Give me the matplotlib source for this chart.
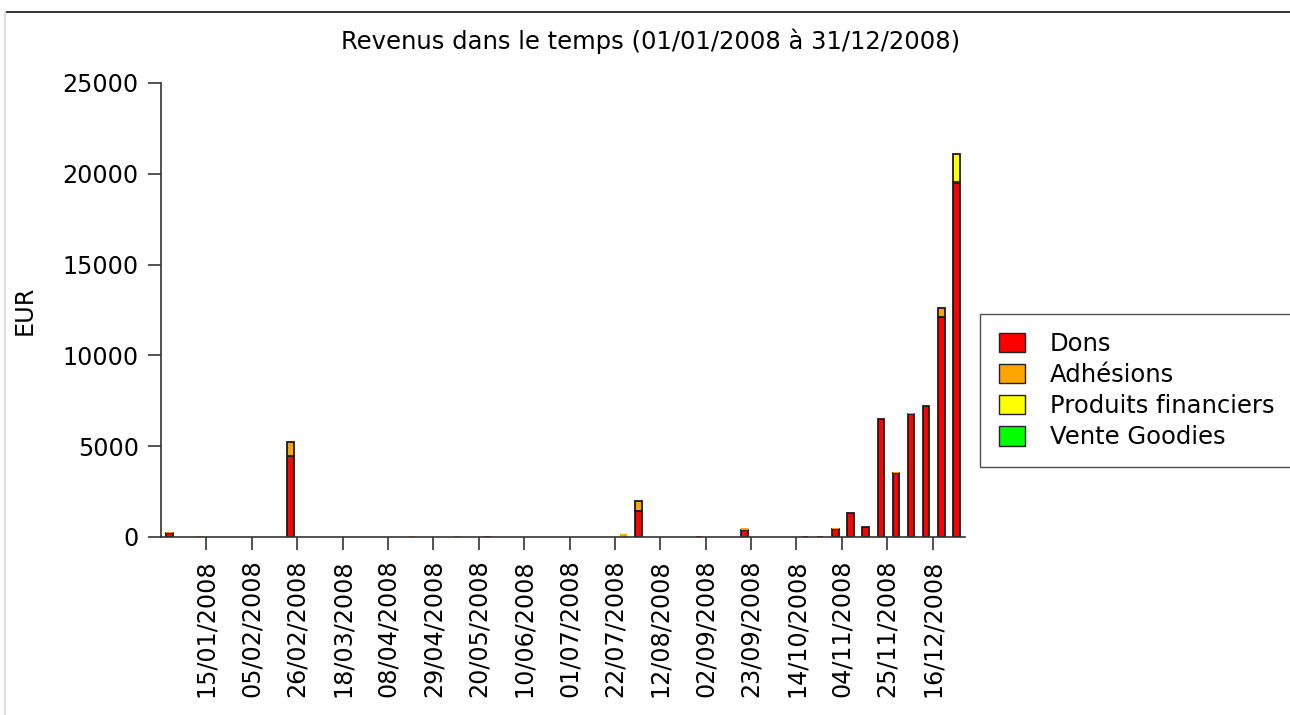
import numpy as np
import pandas as pd
import matplotlib
matplotlib.use('Agg')
import matplotlib.pyplot as plt
import matplotlib.dates as mdates
import matplotlib.transforms as mtransforms
from matplotlib.lines import Line2D

# Weekly revenue, 53 weeks starting 29/12/2007
week_start = '2007-12-29'
n_weeks = 53

dons = [220, 0, 0, 0, 0, 0, 0, 0, 4450, 0,
        0, 0, 0, 0, 0, 0, 0, 0, 0, 0,
        0, 30, 0, 0, 0, 0, 0, 0, 0, 0,
        0, 1430, 0, 0, 0, 30, 0, 0, 380, 0,
        0, 0, 30, 30, 420, 1300, 570, 6480, 3500, 6770,
        7200, 12100, 19480]
adhesions = [40, 0, 30, 0, 0, 0, 0, 0, 800, 0,
             0, 0, 0, 0, 0, 0, 30, 0, 0, 30,
             0, 0, 0, 0, 0, 0, 0, 0, 0, 0,
             150, 570, 0, 0, 0, 0, 0, 0, 100, 0,
             0, 0, 0, 0, 90, 0, 0, 0, 60, 80,
             0, 490, 60]
produits = [0] * 52 + [1540]
goodies = [0] * 53

series = [('Dons', dons, '#ff0000'),
          ('Adhésions', adhesions, '#ffa500'),
          ('Produits financiers', produits, '#ffff00'),
          ('Vente Goodies', goodies, '#00ff00')]

tick_labels = ['15/01/2008', '05/02/2008', '26/02/2008', '18/03/2008', '08/04/2008',
               '29/04/2008', '20/05/2008', '10/06/2008', '01/07/2008', '22/07/2008',
               '12/08/2008', '02/09/2008', '23/09/2008', '14/10/2008', '04/11/2008',
               '25/11/2008', '16/12/2008']

weeks = pd.date_range(week_start, periods=n_weeks, freq='7D')
x = mdates.date2num(weeks.to_pydatetime())
ticks = mdates.date2num(pd.to_datetime(tick_labels, format='%d/%m/%Y').to_pydatetime())

fig = plt.figure(figsize=(12.9, 7.15), dpi=100)
ax = fig.add_axes([0.1248, 0.249, 0.6233, 0.635])

bottom = np.zeros(n_weeks)
handles = []
for name, vals, col in series:
    vals = np.array(vals, dtype=float)
    lw = np.where(vals >= 200, 1.3, 0.0)
    ax.bar(x, vals, width=3, bottom=bottom, color=col, edgecolor='#1a1a1a',
           linewidth=lw, align='center')
    bottom += vals
    handles.append(plt.Rectangle((0, 0), 1, 1, facecolor=col, edgecolor='#222222', linewidth=1))

ax.set_xlim(mdates.date2num(pd.Timestamp('2007-12-25')), mdates.date2num(pd.Timestamp('2008-12-31')))
ax.set_ylim(0, 25000)
ax.set_yticks(np.arange(0, 25001, 5000))
ax.set_xticks(ticks)
ax.set_xticklabels(tick_labels, rotation=90, ha='center')
# labels sit slightly left of their tick in the original
shift = mtransforms.ScaledTranslation(-0.08, 0, fig.dpi_scale_trans)
for lbl in ax.get_xticklabels():
    lbl.set_transform(lbl.get_transform() + shift)

for s in ['top', 'right']:
    ax.spines[s].set_visible(False)
for s in ['left', 'bottom']:
    ax.spines[s].set_color('#333333')
    ax.spines[s].set_linewidth(1.2)
ax.tick_params(axis='both', direction='out', length=9.5, width=1.2, color='#333333',
               labelsize=17.2, pad=6.5)

ax.set_ylabel('EUR', fontsize=17.2, labelpad=19)
fig.text(0.504, 0.943, 'Revenus dans le temps (01/01/2008 à 31/12/2008)',
         ha='center', va='center', fontsize=17.5)

leg = fig.legend(handles, [s[0] for s in series], loc='upper left',
                 bbox_to_anchor=(0.760, 0.561), fontsize=17.5, frameon=True,
                 fancybox=False, handlelength=1.1, handleheight=0.85,
                 handletextpad=1.0, labelspacing=0.29, borderpad=0.75, borderaxespad=0)
leg.get_frame().set_edgecolor('#222222')
leg.get_frame().set_linewidth(1.0)

# page frame lines
fig.add_artist(Line2D([0.004, 1.0], [0.983, 0.983], color='#111111', linewidth=1.2,
                      transform=fig.transFigure))
fig.add_artist(Line2D([0.004, 0.004], [0.983, 0.0], color='#dddddd', linewidth=1.5,
                      transform=fig.transFigure))

fig.savefig('out.png', dpi=100)
